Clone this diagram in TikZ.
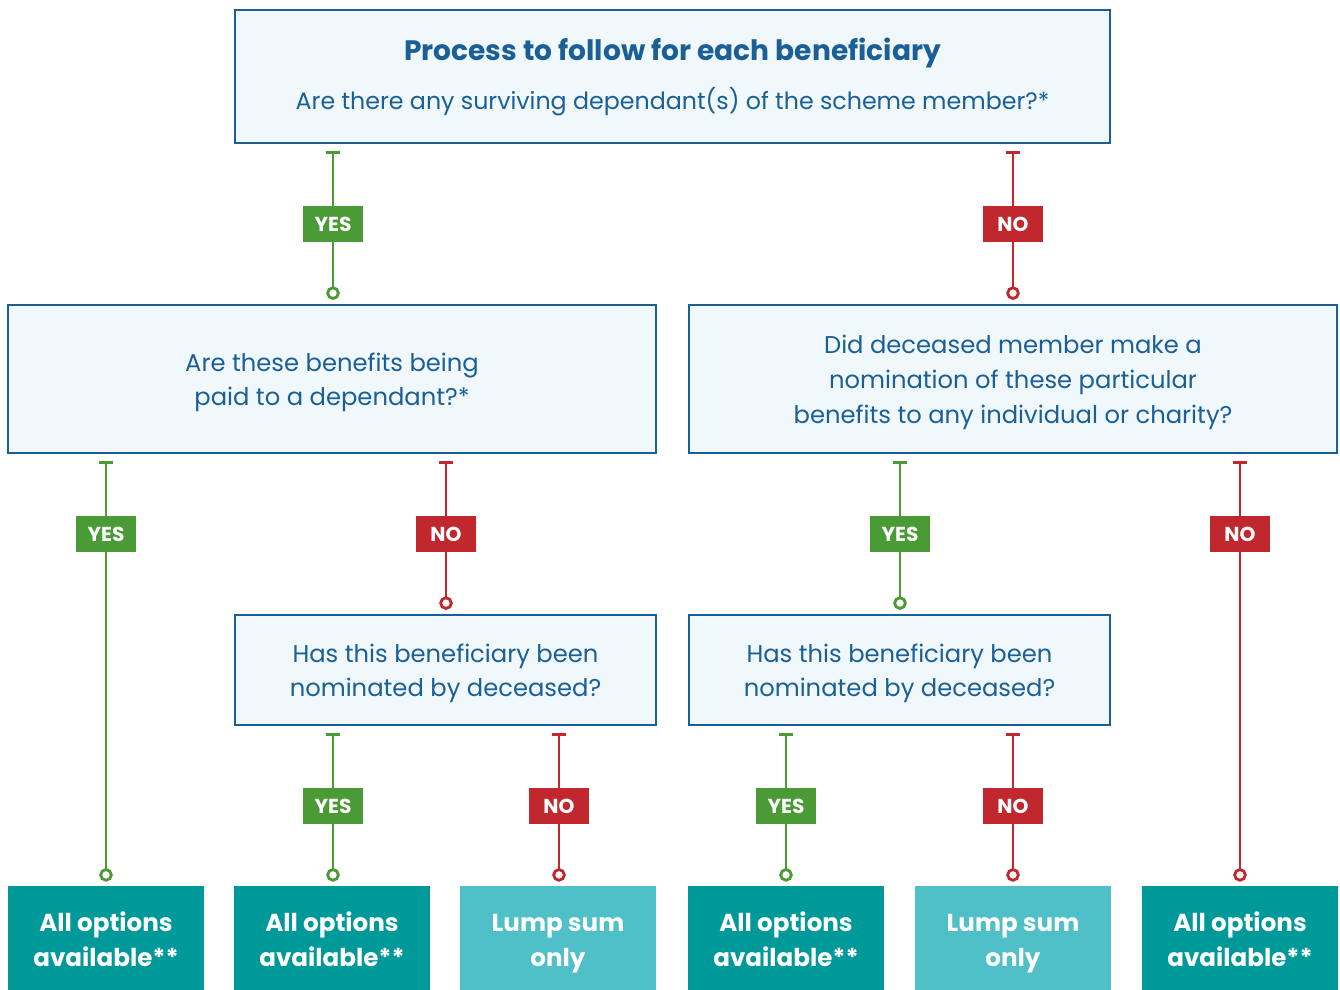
\documentclass[tikz,border=0pt]{standalone}
\usepackage{fontspec}
\setmainfont{Poppins}
\usetikzlibrary{arrows.meta,backgrounds}
\definecolor{nblue}{HTML}{1A5F96}
\definecolor{nfill}{HTML}{F0F8FC}
\definecolor{ygreen}{HTML}{4A9A35}
\definecolor{nred}{HTML}{C0282D}
\definecolor{tdark}{HTML}{009999}
\definecolor{tlight}{HTML}{4FBFC8}
\newcommand\lowtext[2]{\raisebox{#1}[\height][\depth]{\begin{tabular}{@{}c@{}}#2\end{tabular}}}
\tikzset{
  qbase/.style={draw=nblue, line width=1.3pt, fill=nfill, text=nblue, inner sep=0pt},
  qbox/.style={qbase, font=\fontsize{13.8}{19.8}\selectfont},
  endbox/.style={fill=#1, text=white, inner sep=0pt, minimum width=3.92cm, minimum height=2.08cm, font=\bfseries\fontsize{14}{20}\selectfont},
  lbl/.style={fill=#1, text=white, inner sep=0pt, minimum width=1.2cm, minimum height=0.72cm, font=\bfseries\fontsize{11.5}{13}\selectfont},
  conn/.style={draw=#1, line width=1.6pt, {Bar[width=0.28cm,line width=1.6pt]}-{Circle[open,length=0.27cm,width=0.27cm,line width=1.6pt,fill=white]}},
}
\begin{document}
\begin{tikzpicture}[x=0.02cm,y=-0.02cm]
\useasboundingbox (0,0) rectangle (1340,990);
% question boxes
\node[qbase, font=\fontsize{13.5}{19.5}\selectfont, minimum width=17.5cm, minimum height=2.66cm] (top) at (672.5,76.5) {\lowtext{-0.8pt}{{\fontsize{16}{20}\selectfont\bfseries Process to follow for each beneficiary}\\[8.6pt] Are there any surviving dependant(s) of the scheme member?*}};
\node[qbox, minimum width=12.96cm, minimum height=2.96cm] (qa) at (332,379) {\lowtext{-1.5pt}{Are these benefits being\\paid to a dependant?*}};
\node[qbox, minimum width=12.96cm, minimum height=2.96cm] (qb) at (1013,379) {\lowtext{-1.3pt}{Did deceased member make a\\nomination of these particular\\benefits to any individual or charity?}};
\node[qbox, minimum width=8.42cm, minimum height=2.2cm] (qc) at (445.5,670) {\lowtext{-1.5pt}{Has this beneficiary been\\nominated by deceased?}};
\node[qbox, minimum width=8.42cm, minimum height=2.2cm] (qd) at (899.5,670) {\lowtext{-1.5pt}{Has this beneficiary been\\nominated by deceased?}};
% end boxes
\node[endbox=tdark] (e1) at (106,938) {\lowtext{-2.2pt}{All options\\available**}};
\node[endbox=tdark] (e2) at (332,938) {\lowtext{-2.2pt}{All options\\available**}};
\node[endbox=tlight] (e3) at (558,938) {\lowtext{-2.2pt}{Lump sum\\only}};
\node[endbox=tdark] (e4) at (786,938) {\lowtext{-2.2pt}{All options\\available**}};
\node[endbox=tlight] (e5) at (1013,938) {\lowtext{-2.2pt}{Lump sum\\only}};
\node[endbox=tdark] (e6) at (1240,938) {\lowtext{-2.2pt}{All options\\available**}};
% labels
\node[lbl=ygreen] (l1) at (333,224) {YES};
\node[lbl=nred] (l2) at (1013,224) {NO};
\node[lbl=ygreen] (l3) at (106,534) {YES};
\node[lbl=nred] (l4) at (446,534) {NO};
\node[lbl=ygreen] (l5) at (900,534) {YES};
\node[lbl=nred] (l6) at (1240,534) {NO};
\node[lbl=ygreen] (l7) at (333,806) {YES};
\node[lbl=nred] (l8) at (559,806) {NO};
\node[lbl=ygreen] (l9) at (786,806) {YES};
\node[lbl=nred] (l10) at (1013,806) {NO};
\begin{pgfonlayer}{background}
\draw[conn=ygreen] ([yshift=-0.14cm]top.south -| l1.center) -- ([yshift=0.08cm]qa.north -| l1.center);
\draw[conn=nred] ([yshift=-0.14cm]top.south -| l2.center) -- ([yshift=0.08cm]qb.north -| l2.center);
\draw[conn=ygreen] ([yshift=-0.14cm]qa.south -| l3.center) -- ([yshift=0.08cm]e1.north -| l3.center);
\draw[conn=nred] ([yshift=-0.14cm]qa.south -| l4.center) -- ([yshift=0.08cm]qc.north -| l4.center);
\draw[conn=ygreen] ([yshift=-0.14cm]qb.south -| l5.center) -- ([yshift=0.08cm]qd.north -| l5.center);
\draw[conn=nred] ([yshift=-0.14cm]qb.south -| l6.center) -- ([yshift=0.08cm]e6.north -| l6.center);
\draw[conn=ygreen] ([yshift=-0.14cm]qc.south -| l7.center) -- ([yshift=0.08cm]e2.north -| l7.center);
\draw[conn=nred] ([yshift=-0.14cm]qc.south -| l8.center) -- ([yshift=0.08cm]e3.north -| l8.center);
\draw[conn=ygreen] ([yshift=-0.14cm]qd.south -| l9.center) -- ([yshift=0.08cm]e4.north -| l9.center);
\draw[conn=nred] ([yshift=-0.14cm]qd.south -| l10.center) -- ([yshift=0.08cm]e5.north -| l10.center);
\end{pgfonlayer}
\end{tikzpicture}
\end{document}
